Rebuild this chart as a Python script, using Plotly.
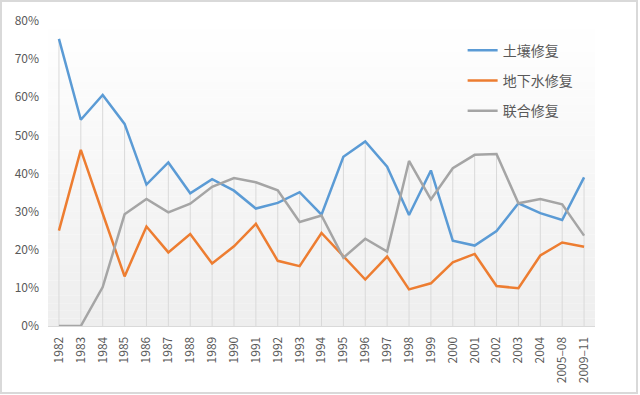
import plotly.graph_objects as go

categories = ["1982", "1983", "1984", "1985", "1986", "1987", "1988", "1989", "1990",
              "1991", "1992", "1993", "1994", "1995", "1996", "1997", "1998", "1999",
              "2000", "2001", "2002", "2003", "2004", "2005–08", "2009–11"]
soil = [75.3, 54.1, 60.6, 53.0, 37.1, 42.9, 34.8, 38.5, 35.5, 30.8, 32.3, 35.1, 29.2,
        44.4, 48.4, 41.8, 29.1, 40.8, 22.4, 21.1, 24.9, 32.2, 29.6, 27.8, 39.0]
groundwater = [25.0, 46.2, 29.5, 13.0, 26.1, 19.3, 24.1, 16.4, 20.9, 26.8, 17.1, 15.7, 24.4,
               18.4, 12.2, 18.2, 9.6, 11.2, 16.7, 18.9, 10.5, 9.9, 18.5, 21.9, 20.8]
combined = [0, 0, 10.2, 29.3, 33.3, 29.8, 32.1, 36.5, 38.8, 37.7, 35.6, 27.3, 29.0,
            17.9, 22.9, 19.5, 43.3, 33.2, 41.4, 44.9, 45.1, 32.2, 33.3, 31.9, 23.7]
series_names = ["土壤修复", "地下水修复", "联合修复"]
y_ticks = [0, 10, 20, 30, 40, 50, 60, 70, 80]

colors = ["#5b9bd5", "#ed7d31", "#a5a5a5"]
FONT = "Noto Sans CJK SC"

W, H = 640, 395
ML, MR, MT, MB = 48, 45, 21, 69
pw, ph = W - ML - MR, H - MT - MB

fig = go.Figure()

# drop lines (from axis to the highest series value at each category)
dx, dy = [], []
for i, c in enumerate(categories):
    top = max(soil[i], groundwater[i], combined[i])
    dx += [c, c, None]
    dy += [0, top, None]
fig.add_trace(go.Scatter(x=dx, y=dy, mode="lines", line=dict(color="#d9d9d9", width=1),
                         showlegend=False, hoverinfo="skip"))

for name, vals, col in zip(series_names, [soil, groundwater, combined], colors):
    fig.add_trace(go.Scatter(x=categories, y=vals, mode="lines", name=name,
                             legendgroup=name,
                             line=dict(color=col, width=2.5)))

# gradient background of plot area
shapes = []
n = 40
for k in range(n):
    y0 = 80 * k / n
    y1 = 80 * (k + 1) / n
    t = (k + 0.5) / n
    v = int(round(0xee + (0xff - 0xee) * t))
    shapes.append(dict(type="rect", xref="paper", yref="y", x0=0, x1=1, y0=y0, y1=y1,
                       fillcolor=f"rgb({v},{v},{v})", line=dict(width=0), layer="below"))
# outer frame (pixel positions converted to paper coordinates)
fx0, fx1, fy_top, fy_bot = 1, 637, 1, 393
shapes.append(dict(type="rect", xref="paper", yref="paper",
                   x0=(fx0 - ML) / pw, x1=(fx1 - ML) / pw,
                   y0=((H - MB) - fy_bot) / ph, y1=((H - MB) - fy_top) / ph,
                   line=dict(color="#d9d9d9", width=2), fillcolor="rgba(0,0,0,0)",
                   layer="below"))

fig.update_layout(
    width=W, height=H,
    margin=dict(l=ML, r=MR, t=MT, b=MB, pad=0, autoexpand=False),
    paper_bgcolor="white", plot_bgcolor="rgba(0,0,0,0)",
    font=dict(family=FONT, color="#595959", size=12),
    shapes=shapes,
    showlegend=True,
    legend=dict(x=0.758, y=0.955, xanchor="left", yanchor="top",
                bgcolor="rgba(0,0,0,0)", font=dict(size=14, color="#595959"),
                tracegroupgap=9, itemwidth=30),
    xaxis=dict(type="category", categoryorder="array", categoryarray=categories,
               range=[-0.5, len(categories) - 0.5], automargin=False,
               tickangle=-90, showgrid=False, showline=True, linecolor="#d9d9d9",
               linewidth=1, ticks="", tickfont=dict(size=12, color="#595959"),
               zeroline=False, ticklabelstandoff=5),
    yaxis=dict(range=[0, 80], tickvals=y_ticks, ticktext=[f"{v}%" for v in y_ticks],
               showgrid=False, zeroline=False, showline=False, ticks="", automargin=False,
               tickfont=dict(size=12, color="#595959"), ticklabelstandoff=8),
)

fig.write_html("out.html", config={"displayModeBar": False},
               post_script="document.body.style.margin='0';document.body.style.overflow='hidden';")
